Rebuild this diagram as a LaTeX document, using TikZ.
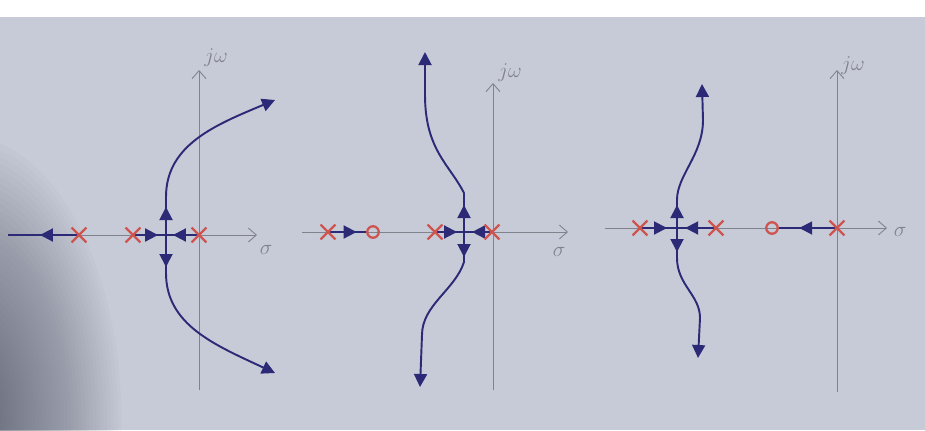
\documentclass[tikz,border=0pt]{standalone}
\usepackage{tikz}
\usetikzlibrary{arrows.meta,decorations.markings,shapes.misc}
\definecolor{paperblue}{RGB}{199,203,216}
\definecolor{shadowgray}{RGB}{70,72,88}
\definecolor{locusnavy}{RGB}{44,42,118}
\definecolor{polered}{RGB}{206,84,80}
\definecolor{axisgray}{RGB}{128,130,140}
\pgfdeclarelayer{paper}
\pgfdeclarelayer{lines}
\pgfsetlayers{paper,lines,main}

\begin{document}
\begin{tikzpicture}[x=0.2mm, y=0.2mm,
    axisline/.style={draw=axisgray, line width=0.5pt,
                     -{Straight Barb[length=1.6mm,width=2.8mm]}},
    axlabel/.style={text=axisgray, font=\large, inner sep=1pt},
    locus/.style={color=locusnavy, line width=1.1pt},
    endtip/.style={-{Triangle[length=2.6mm,width=2.6mm]}},
    midarrow/.style={postaction={decorate}, decoration={markings,
        mark=at position #1 with {\arrow{Triangle[length=2.6mm,width=2.6mm]}}}},
    polemark/.style={cross out, draw=polered, line width=1.3pt,
                     minimum size=2.5mm, inner sep=0pt},
    zeromark/.style={circle, draw=polered, line width=1.3pt,
                     minimum size=2.3mm, inner sep=0pt}]
  \useasboundingbox (0,0) rectangle (925,430);
  % paper
  \begin{pgfonlayer}{paper}
    \fill[paperblue] (0,0) rectangle (925,430);
    \begin{scope}
      \clip (0,0) rectangle (925,413);
      \foreach \r in {1,...,40}
        \fill[shadowgray, opacity=0.025] (-35,10) ellipse ({160-3.6*\r} and {290-6.5*\r});
    \end{scope}
    \fill[white] (0,413) rectangle (925,430);
  \end{pgfonlayer}

  % plot 1
  \node[polemark] (p11) at (79,195) {};
  \node[polemark] (p12) at (133,195) {};
  \node[polemark] (p13) at (199,195) {};
  \coordinate (b1) at (166,195);
  \coordinate (w1) at (8,195);
  \node[axlabel] (jw1) at (216,372) {$j\omega$};
  \node[axlabel] (s1) at (266,180) {$\sigma$};
  \begin{pgfonlayer}{lines}
    \draw[axisline] (10,195) -- (257,195);
    \draw[axisline] (199,40) -- (199,360);
    \draw[locus, midarrow=0.55] (p11.center) -- (w1);
    \draw[locus, midarrow=0.76] (p12.center) -- (b1);
    \draw[locus, midarrow=0.79] (p13.center) -- (b1);
    \draw[locus, endtip, midarrow=5.6mm] (b1) -- (166,233)
         .. controls (166,285) and (215,305) .. (275,330);
    \draw[locus, endtip, midarrow=6.4mm] (b1) -- (166,157)
         .. controls (166,105) and (215,85) .. (275,57);
  \end{pgfonlayer}

  % plot 2
  \node[polemark] (p21) at (328,198) {};
  \node[zeromark] (z2) at (373,198) {};
  \node[polemark] (p22) at (435,198) {};
  \node[polemark] (p23) at (492,198) {};
  \coordinate (b2) at (464,198);
  \node[axlabel] (jw2) at (510,357) {$j\omega$};
  \node[axlabel] (s2) at (559,178) {$\sigma$};
  \begin{pgfonlayer}{lines}
    \draw[axisline] (302,198) -- (568,198);
    \draw[axisline] (493,40) -- (493,347);
    \draw[locus, midarrow=0.75] (p21.center) -- (z2);
    \draw[locus, midarrow=0.76] (p22.center) -- (b2);
    \draw[locus, midarrow=0.71] (p23.center) -- (b2);
    \draw[locus, endtip, midarrow=5.4mm] (b2) -- (464,237)
         .. controls (450,265) and (425,280) .. (425,335) -- (425,378);
    \draw[locus, endtip, midarrow=5mm] (b2) -- (464,168)
         .. controls (455,140) and (422,125) .. (422,95) -- (420,43);
  \end{pgfonlayer}

  % plot 3
  \node[polemark] (p31) at (640,202) {};
  \node[polemark] (p32) at (716,202) {};
  \node[zeromark] (z3) at (772,202) {};
  \node[polemark] (p33) at (837,202) {};
  \coordinate (b3) at (677,202);
  \node[axlabel] (jw3) at (853,364) {$j\omega$};
  \node[axlabel] (s3) at (900,198) {$\sigma$};
  \begin{pgfonlayer}{lines}
    \draw[axisline] (605,202) -- (887,202);
    \draw[axisline] (837,38) -- (837,360);
    \draw[locus, midarrow=0.73] (p31.center) -- (b3);
    \draw[locus, midarrow=0.79] (p32.center) -- (b3);
    \draw[locus, midarrow=0.65] (p33.center) -- (z3);
    \draw[locus, endtip, midarrow=4.6mm] (b3) -- (677,230)
         .. controls (677,255) and (703,275) .. (703,310) -- (702,346);
    \draw[locus, endtip, midarrow=4.8mm] (b3) -- (677,172)
         .. controls (677,145) and (700,135) .. (700,112) -- (698,72);
  \end{pgfonlayer}
\end{tikzpicture}
\end{document}
